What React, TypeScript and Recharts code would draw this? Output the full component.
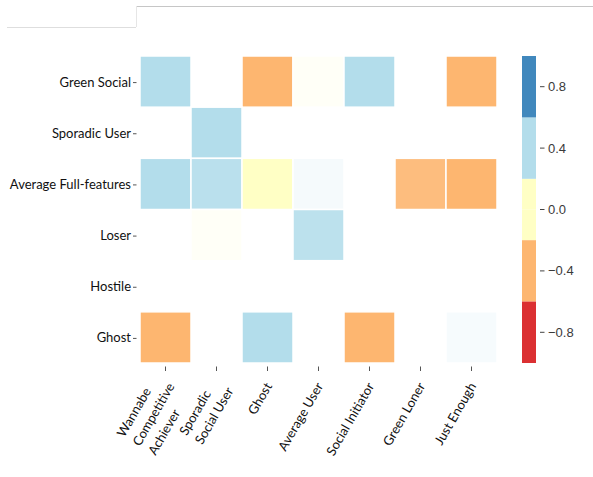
import React from "react";
import { ScatterChart, Scatter, XAxis, YAxis, BarChart, Bar } from "recharts";

// segments shown down the side and across the bottom
const ROWS = ["Green Social", "Sporadic User", "Average Full-features", "Loser", "Hostile", "Ghost"];
const COLS = [
  ["Wannabe", "Competitive", "Achiever"],
  ["Sporadic", "Social User"],
  ["Ghost"],
  ["Average User"],
  ["Social Initiator"],
  ["Green Loner"],
  ["Just Enough"],
];

// correlation for each row segment against the column segments (null = no cell)
const GREEN_SOCIAL = [0.42, null, -0.41, 0.05, 0.4, null, -0.42];
const SPORADIC_USER = [null, 0.4, null, null, null, null, null];
const AVERAGE_FULL = [0.41, 0.36, 0.02, 0.3, null, -0.36, -0.42];
const LOSER = [null, 0.04, null, 0.35, null, null, null];
const HOSTILE = [null, null, null, null, null, null, null];
const GHOST = [-0.4, null, 0.41, null, -0.41, null, 0.3];
const VALUES = [GREEN_SOCIAL, SPORADIC_USER, AVERAGE_FULL, LOSER, HOSTILE, GHOST];

// cell opacity (strength of evidence) per row
const GREEN_SOCIAL_A = [0.9, 0, 0.9, 0.12, 0.9, 0, 0.9];
const SPORADIC_USER_A = [0, 0.9, 0, 0, 0, 0, 0];
const AVERAGE_FULL_A = [0.9, 0.82, 0.9, 0.12, 0, 0.82, 0.9];
const LOSER_A = [0, 0.12, 0, 0.8, 0, 0, 0];
const HOSTILE_A = [0, 0, 0, 0, 0, 0, 0];
const GHOST_A = [0.9, 0, 0.9, 0, 0.9, 0, 0.1];
const ALPHAS = [GREEN_SOCIAL_A, SPORADIC_USER_A, AVERAGE_FULL_A, LOSER_A, HOSTILE_A, GHOST_A];

// discrete RdYlBu scale
const BAND_EDGES = [-1, -0.6, -0.2, 0.2, 0.6, 1];
const BAND_COLORS = ["#d7191c", "#fdae61", "#ffffbf", "#abd9e9", "#2c7bb6"];
const BAR_TICKS = [-0.8, -0.4, 0, 0.4, 0.8];

const W = 593;
const H = 477;
const M = { top: 56, right: 96, bottom: 14, left: 0 };
const Y_AXIS_W = 140;
const X_AXIS_H = 100;
const PLOT_W = W - M.left - M.right - Y_AXIS_W;
const PLOT_H = H - M.top - M.bottom - X_AXIS_H;
const CELL_W = PLOT_W / COLS.length;
const CELL_H = PLOT_H / ROWS.length;

const LABEL_FONT = "Lato, 'Open Sans', sans-serif";
const LABEL_SIZE = 13;

const colorFor = (v: number) => {
  for (let i = 0; i < BAND_COLORS.length; i++) {
    if (v <= BAND_EDGES[i + 1]) return BAND_COLORS[i];
  }
  return BAND_COLORS[BAND_COLORS.length - 1];
};

const cells: { x: number; y: number; v: number; a: number }[] = [];
VALUES.forEach((row, r) =>
  row.forEach((v, c) => {
    if (v !== null && ALPHAS[r][c] > 0) cells.push({ x: c, y: r, v, a: ALPHAS[r][c] });
  })
);

// colour bar as stacked segments away from zero (the middle band is split in two)
const barSegments: { key: string; fill: string }[] = [];
const barRow: Record<string, number | string> = { name: "bar" };
BAND_COLORS.forEach((fill, i) => {
  const lo = BAND_EDGES[i];
  const hi = BAND_EDGES[i + 1];
  const parts = lo < 0 && hi > 0 ? [[lo, 0], [0, hi]] : [[lo, hi]];
  parts.forEach(([a, b], j) => {
    const key = `b${i}_${j}`;
    barRow[key] = b <= 0 ? a - b : b - a;
    barSegments.push({ key, fill });
  });
});
// negative segments stack downward from zero, so order them nearest-zero first
const negSegs = barSegments.filter((s) => (barRow[s.key] as number) < 0).reverse();
const posSegs = barSegments.filter((s) => (barRow[s.key] as number) > 0);

let ctx: CanvasRenderingContext2D | null = null;
const textWidth = (s: string) => {
  if (!ctx) ctx = document.createElement("canvas").getContext("2d");
  if (!ctx) return s.length * 7;
  ctx.font = `${LABEL_SIZE}px ${LABEL_FONT}`;
  return ctx.measureText(s).width;
};

const HeatCell = (props: any) => {
  const { cx, cy, payload } = props;
  return (
    <rect
      x={cx - CELL_W / 2}
      y={cy - CELL_H / 2}
      width={CELL_W}
      height={CELL_H}
      fill={colorFor(payload.v)}
      fillOpacity={payload.a}
      stroke="#fff"
      strokeWidth={1.5}
    />
  );
};

const RowTick = (props: any) => {
  const { x, y, payload } = props;
  return (
    <g>
      <line x1={x - 5} x2={x - 1.5} y1={y + 1} y2={y + 1} stroke="#555" strokeWidth={1} />
      <text x={x - 7} y={y + 0.5} dy="0.35em" textAnchor="end" fontFamily={LABEL_FONT} fontSize={LABEL_SIZE} fill="#111">
        {ROWS[payload.value]}
      </text>
    </g>
  );
};

// rotated, left-aligned block of lines, its right edge tied to the tick
const ColTick = (props: any) => {
  const { x, y, payload } = props;
  const lines = COLS[payload.value] || [];
  const wMax = Math.max(...lines.map(textWidth));
  const n = lines.length;
  const right = n > 1 ? 2 : 0;
  const shift = n > 1 ? 4 : 0;
  return (
    <g>
      <line x1={x} x2={x} y1={y + 1.5} y2={y + 6} stroke="#555" strokeWidth={1} />
      <g transform={`translate(${x + 5},${y + 21}) rotate(-60)`}>
        {lines.map((s, i) => (
          <text
            key={i}
            x={right - wMax}
            y={(i - (n - 1) / 2) * 18 + shift}
            textAnchor="start"
            fontFamily={LABEL_FONT}
            fontSize={LABEL_SIZE}
            fill="#111"
          >
            {s}
          </text>
        ))}
      </g>
    </g>
  );
};

const BarTick = (props: any) => {
  const { x, y, payload } = props;
  const v: number = payload.value;
  const label = v.toFixed(1).replace("-", "\u2212");
  return (
    <g>
      <line x1={x + 2} x2={x + 6.5} y1={y} y2={y} stroke="#444" strokeWidth={1} />
      <text x={x + 10} y={y} dy="0.35em" textAnchor="start" fontFamily="'Liberation Sans', Arial, sans-serif" fontSize={13} fill="#3a3a3a">
        {label}
      </text>
    </g>
  );
};

export default function App() {
  return (
    <div style={{ position: "absolute", left: 0, top: 0, width: W, height: H, background: "#fff" }}>
      {/* frame edges along the top */}
      <div style={{ position: "absolute", left: 136, top: 6, width: W - 136, height: 1, background: "#c6c6c6" }} />
      <div style={{ position: "absolute", left: 136, top: 6, width: 1, height: 21, background: "#e6e6e6" }} />
      <div style={{ position: "absolute", left: 7, top: 27, width: 129, height: 1, background: "#dedede" }} />

      <div style={{ position: "absolute", left: 0, top: 0 }}>
        <ScatterChart width={W} height={H} margin={M}>
          <XAxis
            type="number"
            dataKey="x"
            domain={[-0.5, COLS.length - 0.5]}
            ticks={COLS.map((_, i) => i)}
            interval={0}
            height={X_AXIS_H}
            axisLine={false}
            tickLine={false}
            tickSize={0}
            tick={<ColTick />}
          />
          <YAxis
            type="number"
            dataKey="y"
            reversed
            domain={[-0.5, ROWS.length - 0.5]}
            ticks={ROWS.map((_, i) => i)}
            interval={0}
            width={Y_AXIS_W}
            axisLine={false}
            tickLine={false}
            tickSize={0}
            tick={<RowTick />}
          />
          <Scatter data={cells} shape={<HeatCell />} isAnimationActive={false} />
        </ScatterChart>
      </div>

      <div style={{ position: "absolute", left: 500, top: 0 }}>
        <BarChart
          width={93}
          height={H}
          data={[barRow]}
          stackOffset="sign"
          barCategoryGap={0}
          margin={{ top: 56, right: 0, bottom: 114, left: 22 }}
        >
          <XAxis dataKey="name" hide />
          <YAxis
            orientation="right"
            type="number"
            domain={[-1, 1]}
            allowDataOverflow
            ticks={BAR_TICKS}
            interval={0}
            width={57}
            axisLine={false}
            tickLine={false}
            tickSize={0}
            tick={<BarTick />}
          />
          {[...negSegs, ...posSegs].map((s) => (
            <Bar key={s.key} dataKey={s.key} stackId="cb" fill={s.fill} fillOpacity={0.9} isAnimationActive={false} />
          ))}
        </BarChart>
      </div>
    </div>
  );
}
